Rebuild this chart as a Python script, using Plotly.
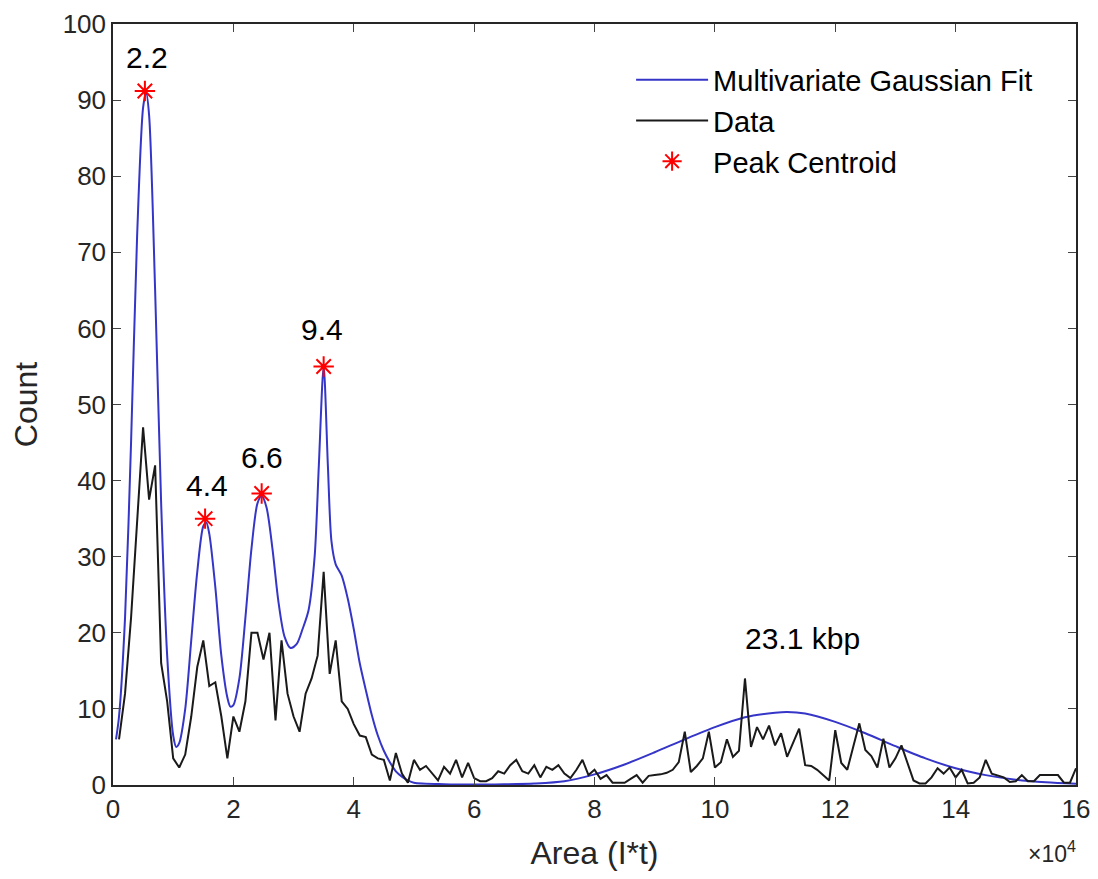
import numpy as np
import plotly.graph_objects as go

# ---- Data (x in units of 10^4) ----
bin_width = 0.1
data_counts = [
    6, 12, 22, 34, 47, 37.5, 42, 16, 11, 3.5,          # 0.1 - 1.0
    2.3, 4, 9, 15.5, 19, 13, 13.5, 9, 3.5, 9,          # 1.1 - 2.0
    7, 11, 20, 20, 16.5, 20, 8.5, 19, 12, 9,           # 2.1 - 3.0
    7, 12, 14, 17, 28, 14.6, 19, 11, 10, 8,            # 3.1 - 4.0
    6.5, 6.3, 4, 3.5, 3.3, 0.6, 4.2, 1.5, 0.3, 3.3,    # 4.1 - 5.0
    2, 2.5, 1.5, 0.6, 2.4, 1.5, 3.3, 1, 2.9, 0.9,      # 5.1 - 6.0
    0.5, 0.5, 0.9, 1.8, 1.5, 2.6, 3.3, 1.8, 1.5, 2.6,  # 6.1 - 7.0
    1, 2.4, 2, 2.6, 1.5, 0.9, 2, 3.3, 1.3, 2,          # 7.1 - 8.0
    0.8, 1.3, 0.3, 0.3, 0.3, 0.8, 1.3, 0.3, 1.2, 1.3,  # 8.1 - 9.0
    1.4, 1.6, 2, 3, 7, 1.7, 2.5, 3.5, 7, 2.3,          # 9.1 - 10.0
    3, 6, 3.7, 4.5, 14, 5, 7.6, 6, 7.8, 5.2,           # 10.1 - 11.0
    6.8, 3.7, 5.5, 7.4, 2.6, 2.5, 2, 1.3, 0.6, 7.2,    # 11.1 - 12.0
    2.9, 2, 5, 8.1, 4.6, 3.8, 2.3, 6.1, 2.3, 3.5,      # 12.1 - 13.0
    5.2, 2.9, 0.6, 0.2, 0.2, 1, 2.2, 1.5, 2.3, 1,      # 13.1 - 14.0
    2, 0.2, 0.3, 1, 3.3, 1.5, 1.3, 1, 0.4, 0.5,        # 14.1 - 15.0
    1.3, 0.5, 0.5, 1.3, 1.3, 1.3, 1.3, 0.3, 0.3, 2.2,  # 15.1 - 16.0
]
data_x = np.round(bin_width * np.arange(1, len(data_counts) + 1), 2)

fit_x = [0.05, 0.1, 0.2, 0.3, 0.4, 0.5, 0.55, 0.6, 0.7, 0.8, 0.9, 1.0, 1.05, 1.1,
         1.2, 1.3, 1.4, 1.5, 1.55, 1.6, 1.7, 1.8, 1.9, 1.95, 2.0, 2.1, 2.2, 2.3,
         2.4, 2.47, 2.55, 2.65, 2.75, 2.85, 2.95, 3.05, 3.15, 3.25, 3.35, 3.42,
         3.5, 3.57, 3.63, 3.7, 3.8, 3.9, 4.0, 4.1, 4.2, 4.3, 4.4, 4.5, 4.6, 4.7,
         4.8, 4.9, 5.0, 5.5, 6.0, 6.5, 7.0, 7.5, 8.0, 8.5, 9.0, 9.5, 10.0, 10.5,
         11.0, 11.2, 11.5, 12.0, 12.5, 13.0, 13.5, 14.0, 14.5, 15.0, 15.5, 16.0]
fit_y = [6, 9, 22, 45, 72, 89, 91, 88, 65, 37, 17, 6.5, 5, 5.5,
         10, 19, 28, 34, 34.5, 33, 26, 17, 11.5, 10.3, 10.5, 14, 22, 31,
         37, 38, 36.5, 31, 24, 19.5, 18, 18.5, 20.5, 23, 30, 42,
         55, 42, 32, 29, 27.5, 24.5, 20.5, 16, 12.5, 9.2, 6.5, 4.5, 3, 1.8,
         1.1, 0.6, 0.3, 0.1, 0.05, 0.1, 0.2, 0.5, 1.4, 2.7, 4.3, 6.0, 7.6, 8.9,
         9.5, 9.6, 9.4, 8.3, 6.8, 5.1, 3.5, 2.2, 1.3, 0.7, 0.35, 0.15]

peak_x = [0.53, 1.53, 2.47, 3.5]
peak_y = [91.2, 35.0, 38.3, 55.0]
peak_labels = ["2.2", "4.4", "6.6", "9.4"]
peak_label_x = [0.56, 1.57, 2.47, 3.47]
peak_label_y = [95.6, 39.3, 43.0, 59.8]
broad_label = "23.1 kbp"
broad_label_pos = (11.45, 19.3)

FONT = "Liberation Sans, Arial, sans-serif"
AX = "#262626"

fig = go.Figure()
fig.add_trace(go.Scatter(x=fit_x, y=fit_y, mode="lines", name="Multivariate Gaussian Fit",
                         line=dict(color="#3535c8", width=2, shape="spline", smoothing=0.8)))
fig.add_trace(go.Scatter(x=data_x, y=data_counts, mode="lines", name="Data",
                         line=dict(color="#1a1a1a", width=2)))
fig.add_trace(go.Scatter(x=peak_x, y=peak_y, mode="markers", name="Peak Centroid",
                         marker=dict(symbol="asterisk-open", size=17, color="red",
                                     line=dict(color="red", width=2))))

for lx, ly, t in zip(peak_label_x, peak_label_y, peak_labels):
    fig.add_annotation(x=lx, y=ly, text=t, showarrow=False,
                       font=dict(family=FONT, size=30, color="black"))
fig.add_annotation(x=broad_label_pos[0], y=broad_label_pos[1], text=broad_label, showarrow=False,
                   font=dict(family=FONT, size=30, color="black"))
fig.add_annotation(x=1.002, y=-0.088, xref="paper", yref="paper", xanchor="right", yanchor="middle",
                   text="×10<sup>4</sup>", showarrow=False,
                   font=dict(family=FONT, size=23, color=AX))

fig.update_layout(
    width=1082, height=863,
    margin=dict(l=105, r=14, t=16, b=86, autoexpand=False),
    paper_bgcolor="white", plot_bgcolor="white",
    font=dict(family=FONT, size=26, color=AX),
    showlegend=True,
    legend=dict(x=0.538, y=0.96, xanchor="left", yanchor="top",
                bgcolor="rgba(255,255,255,0)", borderwidth=0,
                font=dict(family=FONT, size=29, color="black"),
                itemwidth=72, tracegroupgap=0),
    xaxis=dict(range=[0, 16], tick0=0, dtick=2, ticks="inside", ticklen=8,
               showline=True, linecolor=AX, linewidth=1.5, mirror="allticks",
               showgrid=False, zeroline=False, ticklabeloverflow="allow", automargin=False,
               title=dict(text="Area (I*t)", standoff=22, font=dict(size=32, color=AX)),
               tickfont=dict(size=26, color=AX)),
    yaxis=dict(range=[0, 100], tick0=0, dtick=10, ticks="inside", ticklen=8,
               showline=True, linecolor=AX, linewidth=1.5, mirror="allticks",
               showgrid=False, zeroline=False, ticklabeloverflow="allow", automargin=False,
               title=dict(text="Count", standoff=16, font=dict(size=32, color=AX)),
               tickfont=dict(size=26, color=AX)),
)

fig.write_html("out.html")
